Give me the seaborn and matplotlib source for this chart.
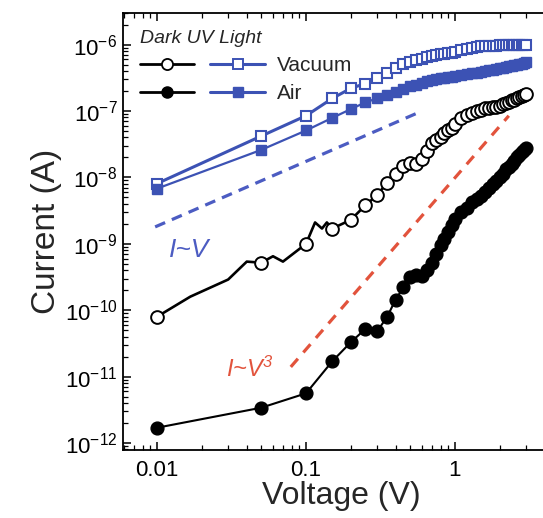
import numpy as np
import matplotlib
matplotlib.use("Agg")
import matplotlib.pyplot as plt
import seaborn as sns
from matplotlib.lines import Line2D
from matplotlib.legend_handler import HandlerTuple
from matplotlib.ticker import LogLocator, NullFormatter

# voltage steps (V)
volts = [0.01, 0.05, 0.10, 0.15, 0.20, 0.25, 0.30, 0.35, 0.40, 0.45, 0.50,
         0.55, 0.60, 0.65, 0.70, 0.75, 0.80, 0.85, 0.90, 0.95, 1.0, 1.1, 1.2,
         1.3, 1.4, 1.5, 1.6, 1.7, 1.8, 1.9, 2.0, 2.1, 2.2, 2.3, 2.4, 2.5, 2.6,
         2.7, 2.8, 2.9, 3.0]

# dark, vacuum (open circles)
dark_vac = [8.0e-11, 5.2e-10, 1.0e-9, 1.7e-9, 2.3e-9, 3.8e-9, 5.4e-9, 8.3e-9,
            1.12e-8, 1.5e-8, 1.66e-8, 1.6e-8, 1.9e-8, 2.5e-8, 3.3e-8, 3.7e-8,
            4.0e-8, 4.6e-8, 5.1e-8, 5.6e-8, 6.3e-8, 7.9e-8, 8.7e-8, 9.3e-8,
            1.0e-7, 1.05e-7, 1.1e-7, 1.12e-7, 1.15e-7, 1.17e-7, 1.2e-7, 1.26e-7,
            1.32e-7, 1.38e-7, 1.45e-7, 1.48e-7, 1.55e-7, 1.62e-7, 1.66e-7,
            1.74e-7, 1.8e-7]
# extra wiggles of the dark vacuum trace at low bias
dark_vac_line_v = [0.01, 0.0167, 0.03, 0.04, 0.05, 0.06, 0.07, 0.10, 0.115, 0.128, 0.138, 0.15]
dark_vac_line_i = [8.0e-11, 1.6e-10, 2.9e-10, 5.4e-10, 5.2e-10, 6.5e-10, 5.4e-10,
                   1.0e-9, 2.1e-9, 1.7e-9, 2.1e-9, 1.7e-9]

# dark, air (filled circles)
dark_air = [1.7e-12, 3.4e-12, 5.6e-12, 1.7e-11, 3.3e-11, 5.2e-11, 4.8e-11, 7.9e-11,
            1.45e-10, 2.2e-10, 3.2e-10, 3.4e-10, 3.3e-10, 4.0e-10, 5.2e-10, 7.1e-10,
            9.5e-10, 1.17e-9, 1.5e-9, 1.9e-9, 2.4e-9, 3.0e-9, 3.5e-9, 4.2e-9,
            4.7e-9, 5.2e-9, 6.0e-9, 6.9e-9, 7.9e-9, 8.9e-9, 1.0e-8, 1.12e-8,
            1.32e-8, 1.45e-8, 1.6e-8, 1.8e-8, 2.0e-8, 2.2e-8, 2.4e-8, 2.6e-8, 2.75e-8]

# UV light, vacuum (open squares)
uv_vac = [8.1e-9, 4.2e-8, 8.5e-8, 1.55e-7, 2.2e-7, 2.6e-7, 3.1e-7, 3.8e-7, 4.5e-7,
          5.2e-7, 5.5e-7, 5.8e-7, 6.1e-7, 6.5e-7, 6.8e-7, 7.0e-7, 7.2e-7, 7.3e-7,
          7.4e-7, 7.6e-7, 7.8e-7, 8.2e-7, 8.6e-7, 9.0e-7, 9.3e-7, 9.5e-7, 9.6e-7,
          9.6e-7, 9.7e-7, 9.7e-7, 9.8e-7, 9.8e-7, 9.8e-7, 9.9e-7, 9.9e-7, 9.9e-7,
          1.0e-6, 1.0e-6, 1.0e-6, 1.0e-6, 1.0e-6]

# UV light, air (filled squares)
uv_air = [6.8e-9, 2.6e-8, 5.1e-8, 7.9e-8, 1.07e-7, 1.35e-7, 1.55e-7, 1.75e-7, 1.95e-7,
          2.15e-7, 2.35e-7, 2.5e-7, 2.65e-7, 2.8e-7, 2.9e-7, 3.0e-7, 3.1e-7, 3.2e-7,
          3.25e-7, 3.3e-7, 3.35e-7, 3.5e-7, 3.6e-7, 3.7e-7, 3.8e-7, 3.9e-7, 4.0e-7,
          4.1e-7, 4.2e-7, 4.3e-7, 4.4e-7, 4.5e-7, 4.6e-7, 4.7e-7, 4.8e-7, 4.9e-7,
          5.0e-7, 5.1e-7, 5.2e-7, 5.3e-7, 5.4e-7]

# guide lines
ohmic_v = [0.0097, 0.6]
ohmic_i = [1.8e-9, 1.0e-7]
cubic_v = [0.079, 2.3]
cubic_i = [1.4e-11, 8.5e-8]

x_ticks = [0.01, 0.1, 1]
x_ticklabels = ["0.01", "0.1", "1"]
y_exponents = [-12, -11, -10, -9, -8, -7, -6]

sns.set_style("ticks")
plt.rcParams["font.family"] = ["Liberation Sans", "DejaVu Sans"]
plt.rcParams["mathtext.fontset"] = "custom"
plt.rcParams["mathtext.rm"] = "Liberation Sans"
plt.rcParams["mathtext.it"] = "Liberation Sans:italic"
plt.rcParams["mathtext.default"] = "regular"

blue = "#3c52b4"
blue_dash = "#4c5cc2"
red = "#e2533c"

fig = plt.figure(figsize=(5.43, 5.18), dpi=100)
ax = fig.add_axes([0.2265, 0.1313, 0.803, 0.8436])

sns.lineplot(x=ohmic_v, y=ohmic_i, ax=ax, color=blue_dash, lw=2.3,
             linestyle=(0, (3.4, 2.3)), sort=False, estimator=None, legend=False)
sns.lineplot(x=cubic_v, y=cubic_i, ax=ax, color=red, lw=2.3,
             linestyle=(0, (3.4, 2.6)), sort=False, estimator=None, legend=False)

sns.lineplot(x=volts, y=uv_vac, ax=ax, color=blue, lw=2.2, marker="s", markersize=7.5,
             markerfacecolor="white", markeredgecolor=blue, markeredgewidth=1.5,
             sort=False, estimator=None, legend=False)
sns.lineplot(x=volts, y=uv_air, ax=ax, color=blue, lw=1.6, marker="s", markersize=7.5,
             markerfacecolor=blue, markeredgecolor=blue, markeredgewidth=1.0,
             sort=False, estimator=None, legend=False)

sns.lineplot(x=dark_vac_line_v, y=dark_vac_line_i, ax=ax, color="black", lw=1.9,
             sort=False, estimator=None, legend=False)
sns.lineplot(x=volts[3:], y=dark_vac[3:], ax=ax, color="black", lw=1.9,
             sort=False, estimator=None, legend=False)
sns.scatterplot(x=volts, y=dark_vac, ax=ax, marker="o", s=84, facecolor="white",
                edgecolor="black", linewidth=1.4, zorder=3, legend=False)
sns.lineplot(x=volts, y=dark_air, ax=ax, color="black", lw=1.5, marker="o", markersize=9.2,
             markerfacecolor="black", markeredgecolor="black", markeredgewidth=1.0,
             sort=False, estimator=None, legend=False)

ax.set_xscale("log")
ax.set_yscale("log")
ax.set_xlim(0.0059, 5.0)
ax.set_ylim(7.85e-13, 3.0e-6)

ax.set_xticks(x_ticks, x_ticklabels)
ax.set_yticks([10.0 ** e for e in y_exponents],
              [r"$10^{%d}$" % e for e in y_exponents])
ax.xaxis.set_minor_locator(LogLocator(base=10, subs=np.arange(2, 10), numticks=20))
ax.yaxis.set_minor_locator(LogLocator(base=10, subs=np.arange(2, 10), numticks=20))
ax.xaxis.set_minor_formatter(NullFormatter())
ax.yaxis.set_minor_formatter(NullFormatter())
ax.tick_params(which="both", direction="in", top=True, right=True, colors="black")
ax.tick_params(which="major", length=6, width=1.1, labelsize=16)
ax.tick_params(axis="x", which="major", pad=7)
ax.tick_params(axis="y", which="major", pad=4)
ax.tick_params(which="minor", length=3.5, width=0.9)
for sp in ax.spines.values():
    sp.set_color("black")
    sp.set_linewidth(1.3)

ax.set_xlabel("Voltage (V)", fontsize=23, labelpad=0)
ax.set_ylabel("Current (A)", fontsize=24, labelpad=2)

ax.text(0.0164, 8.1e-10, "I~V", color=blue_dash, fontsize=19, style="italic",
        ha="center", va="center")
ax.text(0.042, 1.3e-11, r"I~V$^{3}$", color=red, fontsize=17, style="italic",
        ha="center", va="center")

h_dv = Line2D([], [], color="black", lw=2, marker="o", ms=8, mfc="white", mec="black", mew=1.3)
h_da = Line2D([], [], color="black", lw=2, marker="o", ms=8, mfc="black", mec="black")
h_uv = Line2D([], [], color=blue, lw=2.2, marker="s", ms=7, mfc="white", mec=blue, mew=1.4)
h_ua = Line2D([], [], color=blue, lw=2.2, marker="s", ms=7, mfc=blue, mec=blue)
ax.legend([(h_dv, h_uv), (h_da, h_ua)], ["Vacuum", "Air"],
          handler_map={tuple: HandlerTuple(ndivide=None, pad=0.8)},
          handlelength=6.0, loc="upper left", frameon=False, fontsize=15,
          title="Dark UV Light", title_fontproperties={"style": "italic", "size": 14},
          alignment="left", handletextpad=0.6, labelspacing=0.45,
          borderaxespad=0.5, borderpad=0.3)

fig.savefig("out.png", dpi=100)
